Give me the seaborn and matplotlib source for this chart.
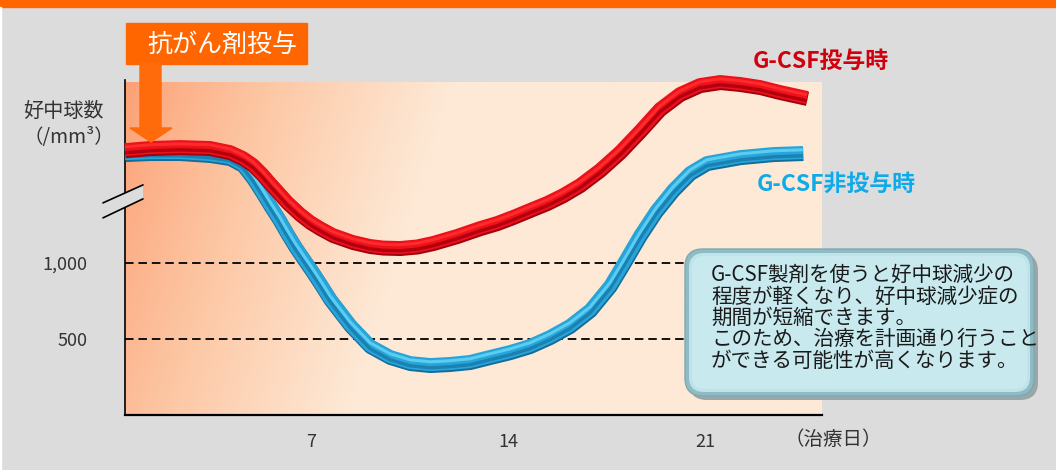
import numpy as np
import matplotlib
matplotlib.use("Agg")
import matplotlib.pyplot as plt
import matplotlib.patheffects as pe
from matplotlib.patches import Rectangle, Polygon, FancyBboxPatch
from matplotlib.colors import LinearSegmentedColormap
import seaborn as sns

# Neutrophil count (/mm3) by treatment day, with G-CSF
days_gcsf = [0.39, 1.28, 2.35, 3.41, 4.12, 4.58, 4.94, 5.26, 5.54, 5.86, 6.15, 6.61, 6.97,
             7.32, 7.78, 8.49, 9.10, 9.56, 10.16, 10.77, 11.34, 12.19, 13.01, 13.61, 14.18,
             14.78, 15.39, 15.96, 16.56, 17.27, 17.98, 18.69, 19.40, 20.11, 20.82, 21.54,
             22.25, 22.96, 23.67, 24.63]
anc_gcsf = [1743, 1757, 1763, 1757, 1730, 1691, 1645, 1586, 1526, 1461, 1401, 1322, 1270,
            1230, 1184, 1138, 1112, 1102, 1099, 1109, 1132, 1178, 1230, 1263, 1303,
            1349, 1395, 1447, 1513, 1612, 1730, 1868, 2013, 2112, 2171, 2191,
            2178, 2158, 2125, 2086]

# Neutrophil count (/mm3) by treatment day, without G-CSF
days_none = [0.39, 1.28, 2.35, 3.41, 4.12, 4.58, 4.94, 5.26, 5.54, 5.86, 6.15, 6.43, 6.72,
             7.04, 7.32, 7.68, 8.39, 9.10, 9.81, 10.52, 11.23, 11.94, 12.65, 13.36, 14.07,
             14.78, 15.49, 16.20, 16.92, 17.63, 18.12, 18.69, 19.26, 19.87, 20.47, 21.07,
             22.25, 23.42, 24.48]
anc_none = [1717, 1724, 1724, 1711, 1691, 1645, 1559, 1467, 1382, 1290, 1197, 1112, 1033,
            947, 868, 763, 592, 454, 382, 342, 329, 336, 349, 382, 414,
            454, 513, 586, 690, 850, 1000, 1180, 1340, 1480, 1592, 1658,
            1697, 1717, 1724]

x_ticks = [7, 14, 21]
x_tick_labels = ["7", "14", "21"]
y_ticks = [500, 1000]
y_tick_labels = ["500", "1,000"]

label_gcsf = "G-CSF投与時"
label_none = "G-CSF非投与時"
title_drug = "抗がん剤投与"
y_label_1 = "好中球数"
y_label_2 = "（/mm³）"
x_unit = "（治療日）"
note_lines = [
    "G-CSF製剤を使うと好中球減少の",
    "程度が軽くなり、好中球減少症の",
    "期間が短縮できます。",
    "このため、治療を計画通り行うこと",
    "ができる可能性が高くなります。",
]

sns.set_theme(style="white")
plt.rcParams["font.family"] = ["Noto Sans CJK JP", "DejaVu Sans"]

W, H = 1056, 470
BG = "#dcdcdc"
ORANGE = "#ff6600"


def fx(x):
    return x / W


def fy(y):
    return 1 - y / H


fig = plt.figure(figsize=(W / 100, H / 100), dpi=100, facecolor=BG)

# orange band along the top and thin light edge on the left
fig.add_artist(Rectangle((0, fy(7)), 1, 7 / H, transform=fig.transFigure,
                         color=ORANGE, zorder=1))
fig.add_artist(Rectangle((0, 0), 1.2 / W, fy(7), transform=fig.transFigure,
                         color="white", zorder=1))

ax = fig.add_axes([fx(125), fy(415), (822 - 125) / W, (415 - 82) / H])
ax.set_facecolor("none")
ax.set_xlim(0.39, 25.16)
ax.set_ylim(0, 2191)

# salmon-to-peach background wash
u = np.linspace(0, 1, 400)
v = np.linspace(1, 0, 200)
U, V = np.meshgrid(u, v)
t = np.clip((U + 0.15 * (1 - V)) / 0.47, 0, 1)
t = t ** 0.85
wash = LinearSegmentedColormap.from_list("wash", ["#fc9f74", "#fdc7a4", "#fde9d6"])
ax.imshow(t, cmap=wash, vmin=0, vmax=1, extent=[0, 1, 0, 1], transform=ax.transAxes,
          aspect="auto", zorder=0, interpolation="bilinear")

# reference levels
for yv in y_ticks:
    ax.axhline(yv, color="#111111", lw=1.4, ls=(0, (4.4, 2.5)), zorder=1)


def tube(x, y, base, edge, band, light, z):
    effects = [
        pe.Stroke(linewidth=10.2, foreground=edge, offset=(0.3, -0.7)),
        pe.Stroke(linewidth=9.4, foreground=base, offset=(0, 0.3)),
        pe.Stroke(linewidth=2.4, foreground=band, offset=(0, -2.0)),
        pe.Stroke(linewidth=2.2, foreground=light, offset=(0, 2.3)),
    ]
    sns.lineplot(x=x, y=y, ax=ax, color=base, linewidth=10, sort=False,
                 estimator=None, zorder=z, clip_on=False, legend=False,
                 solid_capstyle="butt", solid_joinstyle="round",
                 path_effects=effects)


tube(days_none, anc_none, "#28a5d8", "#146c9a", "#1b80b2", "#5ccdf2", 3)
tube(days_gcsf, anc_gcsf, "#ec111b", "#a0000e", "#b3000f", "#ff2b2b", 4)

# axes styling
for side in ["top", "right"]:
    ax.spines[side].set_visible(False)
ax.spines["left"].set_color("black")
ax.spines["left"].set_linewidth(1.2)
ax.spines["left"].set_bounds(0, 2205)
ax.spines["bottom"].set_color("black")
ax.spines["bottom"].set_linewidth(1.6)
ax.spines["left"].set_zorder(2)

ax.set_xticks(x_ticks)
ax.set_xticklabels(x_tick_labels)
ax.set_yticks(y_ticks)
ax.set_yticklabels(y_tick_labels)
ax.tick_params(axis="x", length=0, pad=13, labelsize=13, labelcolor="#333333")
ax.tick_params(axis="y", length=0, pad=27, labelsize=13, labelcolor="#333333")
ax.grid(False)
ax.set_xlabel("")
ax.set_ylabel("")

# axis break marks
brk = Polygon([[-0.0316, 0.592], [0.0258, 0.649], [0.0258, 0.691], [-0.0316, 0.637]],
              closed=True, transform=ax.transAxes, facecolor=BG, edgecolor="none",
              zorder=5, clip_on=False)
ax.add_patch(brk)
for y0, y1 in [(0.637, 0.691), (0.592, 0.649)]:
    ax.plot([-0.0316, 0.0258], [y0, y1], transform=ax.transAxes, color="black",
            lw=1.2, clip_on=False, zorder=6)

ax.text(1.016, -0.075, x_unit, transform=ax.transAxes, ha="center", va="center",
        fontsize=14, color="#333333")

# y-axis title
fig.text(fx(63), fy(111), y_label_1, ha="center", va="center", fontsize=14.5, color="#333333")
fig.text(fx(69), fy(137), y_label_2, ha="center", va="center", fontsize=14, color="#333333")

# drug administration tag with arrow
fig.add_artist(Rectangle((fx(126), fy(64)), (307 - 126) / W, (64 - 23) / H,
                         transform=fig.transFigure, color=ORANGE, zorder=6))
fig.text(fx(222), fy(45), title_drug, ha="center", va="center", fontsize=18,
         color="white", zorder=7)
arrow_px = [(140, 63), (161, 63), (161, 128), (172, 128), (151, 142), (130, 128), (140, 128)]
fig.add_artist(Polygon([[fx(px), fy(py)] for px, py in arrow_px], closed=True,
                       transform=fig.transFigure, color="#ff6a0a", zorder=6))

# series labels
fig.text(fx(821), fy(61), label_gcsf, ha="center", va="center", fontsize=16.5,
         fontweight="bold", color="#d0000c", zorder=7)
fig.text(fx(836), fy(184), label_none, ha="center", va="center", fontsize=16.5,
         fontweight="bold", color="#0faaea", zorder=7)


# explanatory note box
def rbox(x0, y0, x1, y1, fc, ec, lw, z, r):
    b = FancyBboxPatch((fx(x0), fy(y1)), (x1 - x0) / W, (y1 - y0) / H,
                       boxstyle=f"round,pad=0,rounding_size={r / W}",
                       transform=fig.transFigure, facecolor=fc, edgecolor=ec,
                       linewidth=lw, zorder=z, mutation_aspect=W / H)
    fig.add_artist(b)


rbox(689, 253, 1038, 400, "#9aa6a8", "none", 0, 7, 18)
rbox(685, 249, 1034, 396, "#8fbcc4", "#7fa9b1", 1.0, 8, 18)
rbox(689, 253, 1030, 392, "#bfe3ea", "none", 0, 8, 15)
rbox(692, 256, 1027, 389, "#c8eaef", "none", 0, 8, 13)

line_y = [275, 297, 318, 339, 361]
for txt, ly in zip(note_lines, line_y):
    fig.text(fx(711), fy(ly), txt, ha="left", va="center", fontsize=14.8,
             color="#1a1a1a", zorder=9)

fig.savefig("out.png", dpi=100, facecolor=BG)
